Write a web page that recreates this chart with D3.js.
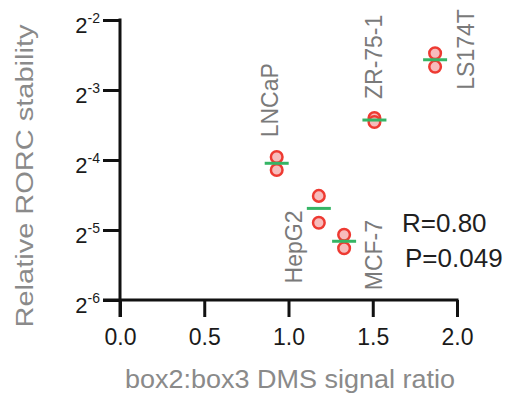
<!DOCTYPE html>
<html>
<head>
<meta charset="utf-8">
<script src="https://cdn.jsdelivr.net/npm/d3@7/dist/d3.min.js"></script>
<style>
  body { margin: 0; background: #fff; }
  svg { display: block; font-family: "Liberation Sans", Arial, Helvetica, sans-serif; }
</style>
</head>
<body>
<svg id="chart" width="506" height="396"></svg>
<script>
// data
const cellLines = ["LNCaP", "HepG2", "MCF-7", "ZR-75-1", "LS174T"];
const dmsRatio = [0.93, 1.18, 1.33, 1.51, 1.87];
const stabilityRep1 = [0.0644, 0.0438, 0.0298, 0.0947, 0.1798];
const stabilityRep2 = [0.0566, 0.0336, 0.0261, 0.0910, 0.1575];
const yTickExponents = [-6, -5, -4, -3, -2];
const xTickValues = [0, 0.5, 1, 1.5, 2];
const statsLines = ["R=0.80", "P=0.049"];

// label placement relative to each group's mean (rotated text)
const labelLayout = {
  "LNCaP":   { dx: 1,  dy: -26 },
  "HepG2":   { dx: -17, dy: 75 },
  "MCF-7":   { dx: 38, dy: 49 },
  "ZR-75-1": { dx: 8,  dy: -21 },
  "LS174T":  { dx: 39, dy: 30 }
};

const svg = d3.select("#chart");

const x = d3.scaleLinear().domain([0, 2]).range([120, 457]);
const y = d3.scaleLog().base(2).domain([Math.pow(2, -6), Math.pow(2, -2)]).range([300, 20]);

const groups = cellLines.map((name, i) => ({
  name,
  ratio: dmsRatio[i],
  reps: [stabilityRep1[i], stabilityRep2[i]],
  mean: d3.mean([stabilityRep1[i], stabilityRep2[i]])
}));

// Y axis
const yAxis = svg.append("g")
  .attr("transform", "translate(120,0)")
  .call(d3.axisLeft(y)
    .tickValues(yTickExponents.map(e => Math.pow(2, e)))
    .tickSize(17)
    .tickSizeOuter(0)
    .tickFormat(""));
yAxis.selectAll("path, line").attr("stroke", "#111").attr("stroke-width", 3);
yAxis.select(".domain").attr("d", "M0,18.5V317");

yAxis.selectAll(".tick").each(function(d) {
  const t = d3.select(this).append("text")
    .attr("x", -20)
    .attr("y", 12)
    .attr("text-anchor", "end")
    .attr("fill", "#1a1a1a")
    .attr("font-size", 22);
  t.append("tspan").text("2");
  t.append("tspan")
    .attr("font-size", 14)
    .attr("dy", -10)
    .text(Math.round(Math.log2(d)));
});

// X axis
const xAxis = svg.append("g")
  .attr("transform", "translate(0,300)")
  .call(d3.axisBottom(x)
    .tickValues(xTickValues)
    .tickSize(17)
    .tickSizeOuter(0)
    .tickFormat(d3.format(".1f")));
xAxis.selectAll("path, line").attr("stroke", "#111").attr("stroke-width", 3);
xAxis.select(".domain").attr("d", "M103,0H458.5");
xAxis.selectAll("text")
  .attr("y", 45)
  .attr("dy", 0)
  .attr("fill", "#1a1a1a")
  .attr("font-size", 23);
yAxis.attr("font-family", null);
xAxis.attr("font-family", null);

// axis titles
svg.append("text")
  .attr("x", 290)
  .attr("y", 388)
  .attr("text-anchor", "middle")
  .attr("fill", "#8a8a8a")
  .attr("font-size", 25)
  .attr("textLength", 330)
  .attr("lengthAdjust", "spacingAndGlyphs")
  .text("box2:box3 DMS signal ratio");

svg.append("text")
  .attr("transform", "translate(33,176) rotate(-90)")
  .attr("text-anchor", "middle")
  .attr("fill", "#8a8a8a")
  .attr("font-size", 23)
  .attr("textLength", 303)
  .attr("lengthAdjust", "spacingAndGlyphs")
  .text("Relative RORC stability");

// replicate points
const pts = groups.flatMap(g => g.reps.map(v => ({ ratio: g.ratio, v })));
svg.append("g").selectAll("circle")
  .data(pts)
  .enter()
  .append("circle")
  .attr("cx", d => x(d.ratio))
  .attr("cy", d => y(d.v))
  .attr("r", 5.8)
  .attr("fill", "#f7bcbc")
  .attr("stroke", "#ee3a32")
  .attr("stroke-width", 2.5);

// mean lines
svg.append("g").selectAll("line")
  .data(groups)
  .enter()
  .append("line")
  .attr("x1", d => x(d.ratio) - 12)
  .attr("x2", d => x(d.ratio) + 12)
  .attr("y1", d => y(d.mean))
  .attr("y2", d => y(d.mean))
  .attr("stroke", "#35b565")
  .attr("stroke-width", 3);

// cell line labels
svg.append("g").selectAll("text")
  .data(groups)
  .enter()
  .append("text")
  .attr("transform", d => {
    const o = labelLayout[d.name];
    return `translate(${x(d.ratio) + o.dx},${y(d.mean) + o.dy}) rotate(-90)`;
  })
  .attr("fill", "#7a7a7a")
  .attr("font-size", 23)
  .text(d => d.name);

// correlation stats
svg.append("g").selectAll("text")
  .data(statsLines)
  .enter()
  .append("text")
  .attr("x", (d, i) => i === 0 ? 402 : 405)
  .attr("y", (d, i) => 232 + i * 35)
  .attr("fill", "#1f1f1f")
  .attr("font-size", 26)
  .text(d => d);
</script>
</body>
</html>
